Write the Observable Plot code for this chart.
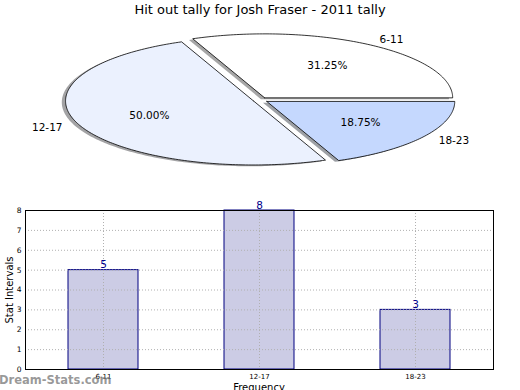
<!DOCTYPE html>
<html>
<head>
<meta charset="utf-8">
<script src="https://cdn.jsdelivr.net/npm/d3@7"></script>
<script src="https://cdn.jsdelivr.net/npm/@observablehq/plot@0.6"></script>
<style>
  html, body { margin: 0; padding: 0; background: #fff; }
  #wrap { position: relative; width: 520px; height: 390px; overflow: hidden; font-family: "DejaVu Sans", sans-serif; }
  .abs { position: absolute; white-space: nowrap; }
  #title { left: 0; width: 520px; top: 2px; text-align: center; font-size: 13px; color: #000; }
  #pie { left: 0; top: 0; }
  #bar { left: 0; top: 190px; }
  #ylab { left: 9px; top: 290px; font-size: 10px; transform: translate(-50%, -50%) rotate(-90deg); }
  #xlab { left: 259px; top: 382px; font-size: 10px; transform: translateX(-50%); }
  #wm { left: -1px; top: 373px; font-size: 11.5px; font-weight: bold; color: rgba(120,120,120,0.75); }
</style>
</head>
<body>
<div id="wrap">
  <div id="pie" class="abs"></div>
  <div id="bar" class="abs"></div>
  <div id="title" class="abs">Hit out tally for Josh Fraser - 2011 tally</div>
  <div id="ylab" class="abs">Stat Intervals</div>
  <div id="xlab" class="abs">Frequency</div>
  <div id="wm" class="abs">Dream-Stats.com</div>
</div>
<script>
// ---- data ----
const categories = ["6-11", "12-17", "18-23"];
const counts = [5, 8, 3];
const sliceColors = ["#ffffff", "#ebf1fe", "#c5d8fe"];
const yTicks = [0, 1, 2, 3, 4, 5, 6, 7, 8];

// ---- pie (matplotlib style, exploded, with shadow) ----
const total = d3.sum(counts);
const explode = 0.04, shadowOff = 0.02;
const W = 520, H = 185;
const cx = 260, cy = 99.5, rx = 188, ry = 64;

let a = 0;
const slices = counts.map((v, i) => {
  const frac = v / total;
  const a0 = a, a1 = a + frac * 360;
  a = a1;
  const mid = (a0 + a1) / 2 * Math.PI / 180;
  const ox = explode * Math.cos(mid), oy = explode * Math.sin(mid);
  const pts = [{x: ox, y: oy}];
  const n = Math.max(2, Math.ceil(a1 - a0));
  for (let k = 0; k <= n; k++) {
    const t = (a0 + (a1 - a0) * k / n) * Math.PI / 180;
    pts.push({x: ox + Math.cos(t), y: oy + Math.sin(t)});
  }
  pts.push({x: ox, y: oy});
  return {cat: categories[i], frac, mid, ox, oy, pts, color: sliceColors[i]};
});

const shadowColor = c => {
  const r = d3.rgb(c);
  return d3.rgb(r.r * 0.3, r.g * 0.3, r.b * 0.3).toString();
};

const pieMarks = [];
slices.forEach(s => {
  pieMarks.push(Plot.line(s.pts.map(p => ({x: p.x - shadowOff, y: p.y - shadowOff})), {
    x: "x", y: "y", fill: shadowColor(s.color), fillOpacity: 0.5, stroke: "none"
  }));
});
slices.forEach(s => {
  pieMarks.push(Plot.line(s.pts, {x: "x", y: "y", fill: s.color, stroke: "#000", strokeWidth: 0.8}));
});
const pctLabels = slices.map(s => ({
  x: s.ox + 0.6 * Math.cos(s.mid), y: s.oy + 0.6 * Math.sin(s.mid),
  t: (s.frac * 100).toFixed(2) + "%"
}));
const catLabels = slices.map(s => ({
  x: s.ox + 1.1 * Math.cos(s.mid), y: s.oy + 1.1 * Math.sin(s.mid),
  t: s.cat, anchor: Math.cos(s.mid) > 0 ? "start" : "end"
}));
pieMarks.push(Plot.text(pctLabels, {x: "x", y: "y", text: "t", fontSize: 10.5, fill: "#000"}));
pieMarks.push(Plot.text(catLabels.filter(d => d.anchor === "start"), {x: "x", y: "y", text: "t", fontSize: 10.5, fill: "#000", textAnchor: "start"}));
pieMarks.push(Plot.text(catLabels.filter(d => d.anchor === "end"), {x: "x", y: "y", text: "t", fontSize: 10.5, fill: "#000", textAnchor: "end"}));

const pie = Plot.plot({
  width: W, height: H, margin: 0,
  style: {fontFamily: "DejaVu Sans, sans-serif", background: "transparent"},
  x: {domain: [-cx / rx, (W - cx) / rx], range: [0, W], axis: null},
  y: {domain: [cy / ry, (cy - H) / ry], range: [0, H], axis: null},
  marks: pieMarks
});
document.getElementById("pie").appendChild(pie);

// ---- bar chart ----
const barData = categories.map((c, i) => ({cat: c, v: counts[i]}));
const bar = Plot.plot({
  width: 520, height: 200,
  marginLeft: 25, marginRight: 27, marginTop: 20, marginBottom: 21,
  style: {fontFamily: "DejaVu Sans, sans-serif", background: "transparent", color: "#000"},
  x: {domain: categories, paddingInner: 0.55, paddingOuter: 0.275, align: 0.5, label: null},
  y: {domain: [0, 8], label: null},
  marks: [
    Plot.barY(barData, {x: "cat", y: "v", fill: "#ccccE5", stroke: "#000080", strokeWidth: 1}),
    Plot.gridY(yTicks.slice(1, -1), {stroke: "#b0b0b0", strokeOpacity: 1, strokeDasharray: "1,2"}),
    Plot.gridX(categories, {stroke: "#b0b0b0", strokeOpacity: 1, strokeDasharray: "1,2"}),
    Plot.frame({stroke: "#000", strokeWidth: 1}),
    Plot.axisY(yTicks, {tickSize: 0, tickPadding: 4, fontSize: 7.5, label: null}),
    Plot.axisX(categories, {tickSize: 0, tickPadding: 5, fontSize: 7, label: null}),
    Plot.text(barData, {x: "cat", y: "v", text: d => String(d.v), lineAnchor: "bottom", dy: -2, fill: "#00008b", fontSize: 10.5})
  ]
});
document.getElementById("bar").appendChild(bar);
</script>
</body>
</html>
